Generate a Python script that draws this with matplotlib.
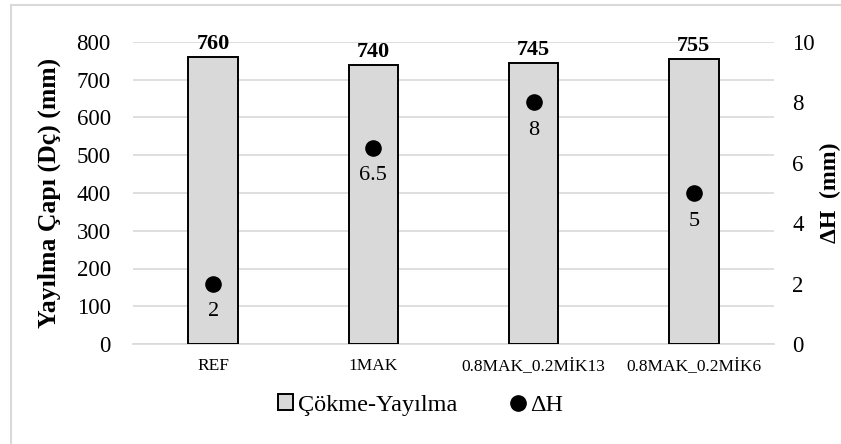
import matplotlib.pyplot as plt
from matplotlib.patches import Rectangle
from matplotlib.lines import Line2D

plt.rcParams['font.family'] = ['Liberation Serif', 'DejaVu Serif']

categories = ['REF', '1MAK', '0.8MAK_0.2MİK13', '0.8MAK_0.2MİK6']
spread = [760, 740, 745, 755]       # Çökme-Yayılma (mm)
delta_h = [2, 6.5, 8, 5]            # ΔH (mm)

fig = plt.figure(figsize=(8.41, 4.44), dpi=100)
ax = fig.add_axes([133/841, 1-344/444, (774-133)/841, (344-42)/444])
ax2 = ax.twinx()

x = range(len(categories))
ax.bar(x, spread, width=0.31, color='#d9d9d9', edgecolor='black', linewidth=1.4, zorder=3)
for xi, v in zip(x, spread):
    ax.text(xi, v + 7, str(v), ha='center', va='bottom', fontsize=16, fontweight='bold')

ax.set_ylim(0, 800)
ax.set_xlim(-0.5, len(categories) - 0.5)
ax.set_yticks(range(0, 801, 100))
ax.set_xticks(list(x))
ax.set_xticklabels(categories, fontsize=12.5)
ax.grid(axis='y', color='#d9d9d9', linewidth=1.2, zorder=0)
ax.set_ylabel('Yayılma Çapı (Dç) (mm)', fontsize=18.5, fontweight='bold', labelpad=11)
ax.tick_params(axis='y', labelsize=16.5, length=0, pad=16)
ax.tick_params(axis='x', length=0, pad=10)

ax2.scatter(list(x), delta_h, s=120, color='black', zorder=5)
for xi, v in zip(x, delta_h):
    ax2.text(xi, v - 0.62, f'{v:g}', ha='center', va='top', fontsize=16)
ax2.set_ylim(0, 10)
ax2.set_yticks(range(0, 11, 2))
ax2.tick_params(axis='y', labelsize=16.5, length=0, pad=13)
ax2.set_ylabel('ΔH  (mm)', fontsize=17, fontweight='bold', labelpad=4)

for a in (ax, ax2):
    for s in a.spines.values():
        s.set_visible(False)
ax.spines['bottom'].set_visible(True)
ax.spines['bottom'].set_color('#d9d9d9')
ax.spines['bottom'].set_linewidth(1.2)

handles = [Rectangle((0, 0), 1, 1, facecolor='#d9d9d9', edgecolor='black', linewidth=1.4),
           Line2D([], [], marker='o', color='black', linestyle='none', markersize=11)]
fig.legend(handles, ['Çökme-Yayılma', 'ΔH'], loc='center', bbox_to_anchor=(0.5, 1-405/444),
           ncol=2, frameon=False, fontsize=17.5, handlelength=0.6, handleheight=0.6,
           handletextpad=0.2, columnspacing=2.2)

# light frame around the chart: only the left and top edges show
fig.add_artist(Line2D([11/841, 11/841], [0, 1-5/444], transform=fig.transFigure,
                      color='#d9d9d9', linewidth=1.5))
fig.add_artist(Line2D([11/841, 1], [1-5/444, 1-5/444], transform=fig.transFigure,
                      color='#d9d9d9', linewidth=1.5))

fig.savefig('out.png', dpi=100)
